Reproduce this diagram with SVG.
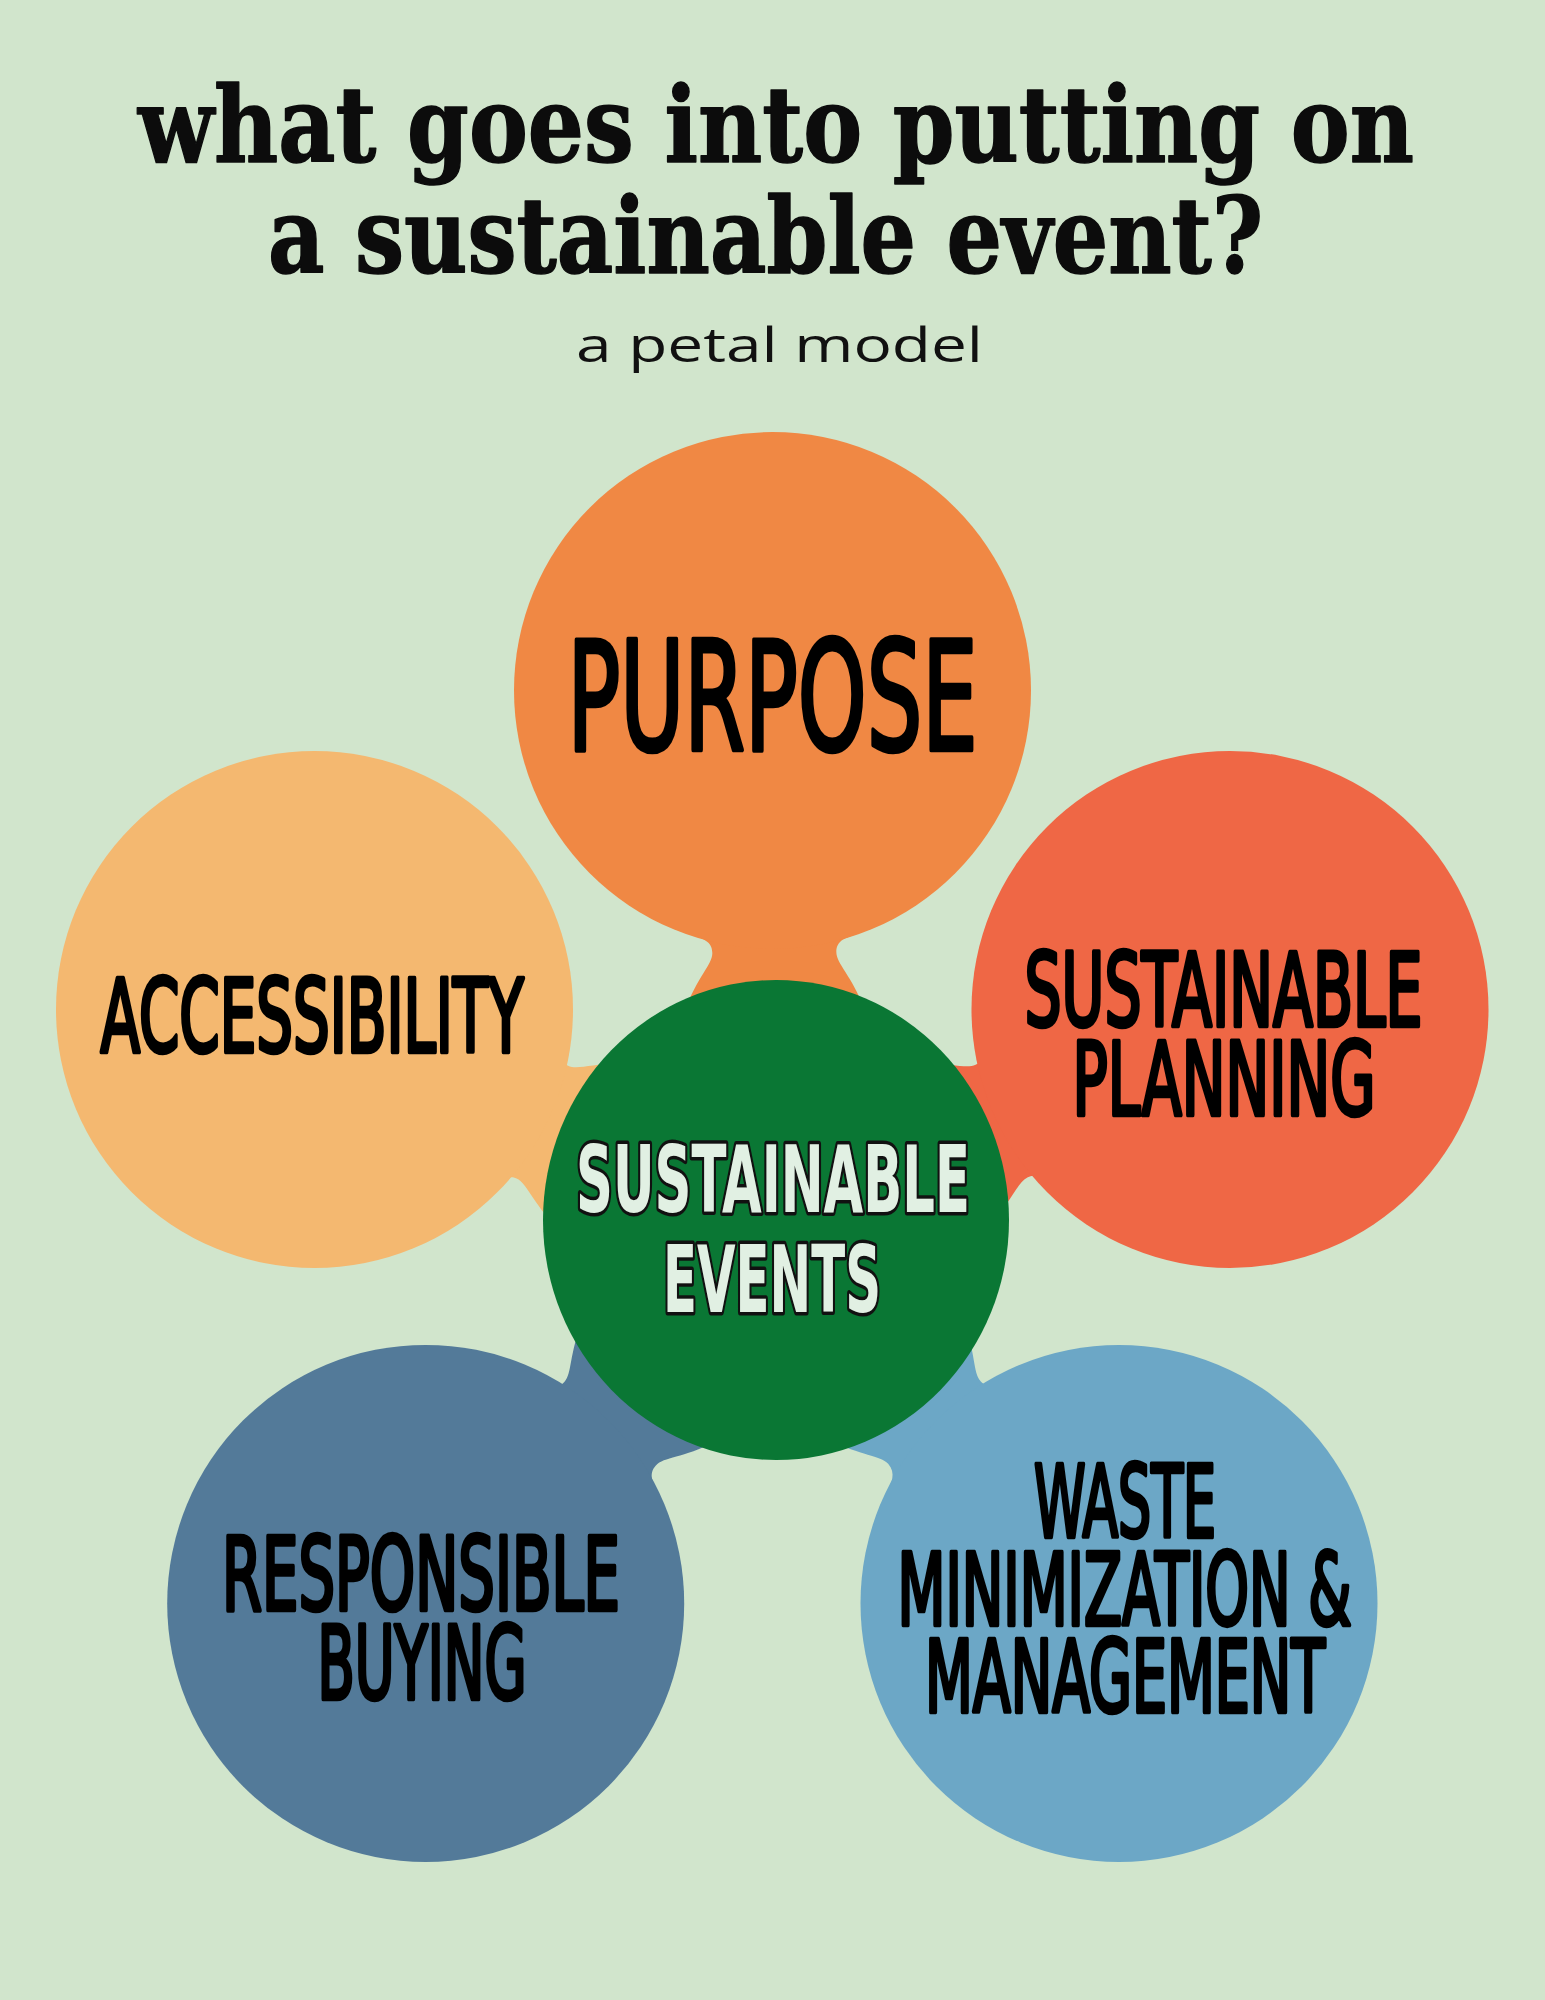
<svg xmlns="http://www.w3.org/2000/svg" width="1545" height="2000" viewBox="0 0 1545 2000">
<style>
.title{font-family:"DejaVu Serif","Liberation Serif",serif;font-weight:bold;font-size:104px;fill:#0c0c0c;stroke:#0c0c0c;stroke-width:1.5;stroke-linejoin:round;text-anchor:middle}
.sub{font-family:"Open Sans","Liberation Sans",sans-serif;font-size:48px;fill:#111;text-anchor:middle}
.lbl{font-family:"DejaVu Sans Condensed","DejaVu Sans",sans-serif;font-weight:normal;fill:#000;stroke:#000;stroke-width:4.5;stroke-linejoin:round;text-anchor:middle}
.ctr{font-family:"DejaVu Sans Condensed","DejaVu Sans",sans-serif;font-weight:bold;fill:#E1F0E3;stroke:#111;stroke-width:7;stroke-linejoin:round;paint-order:stroke;text-anchor:middle}
.c1{fill:#F08844}.c2{fill:#F4B870}.c3{fill:#EF6745}.c4{fill:#537A99}.c5{fill:#6CA7C6}
</style>
<rect width="1545" height="2000" fill="#D1E5CC"/>
<g id="title">
<text class="title" x="776" y="162" textLength="1276" lengthAdjust="spacingAndGlyphs">what goes into putting on</text>
<text class="title" x="765.5" y="273" textLength="995" lengthAdjust="spacingAndGlyphs">a sustainable event?</text>
<text class="sub" x="779.5" y="362" textLength="407" lengthAdjust="spacingAndGlyphs">a petal model</text>
</g>
<g id="connectors">
<path class="c1" transform="translate(772.5,690.5) rotate(-0.4)" d="M -84,243.5 C -72,247.5 -62,250 -62,262 C -62,274 -77,285 -90,320 L -97,350 L 97,350 L 90,320 C 77,285 62,274 62,262 C 62,250 72,247.5 84,243.5 Z"/>
<path class="c2" transform="translate(314.5,1009.5) rotate(-65.5)" d="M -92,240.6 C -80,244.6 -70,242 -70,254 C -70,266 -85,277 -98,312 L -105,342 L 89,342 L 82,312 C 69,277 54,266 54,254 C 54,242 64,250.1 76,246.1 Z"/>
<path class="c3" transform="translate(1230,1009.5) rotate(65.1)" d="M -79,245.1 C -67,249.1 -57,242 -57,254 C -57,266 -72,277 -85,312 L -92,342 L 102,342 L 95,312 C 82,277 67,266 67,254 C 67,242 77,245.7 89,241.7 Z"/>
<path class="c4" transform="translate(425.7,1603.4) rotate(-137.6)" d="M -99,237.8 C -87,241.8 -77,245 -77,257 C -77,269 -92,280 -105,315 L -112,345 L 82,345 L 75,315 C 62,280 47,269 47,257 C 47,245 57,252.1 69,248.1 Z"/>
<path class="c5" transform="translate(1119,1603.5) rotate(138.2)" d="M -67,248.7 C -55,252.7 -45,246 -45,258 C -45,270 -60,281 -73,316 L -80,346 L 114,346 L 107,316 C 94,281 79,270 79,258 C 79,246 89,240.9 101,236.9 Z"/>
</g>
<g id="purpose">
<circle class="c1" cx="772.5" cy="690.5" r="258.5"/>
<text class="lbl" x="772.5" y="750" font-size="152" textLength="410" lengthAdjust="spacingAndGlyphs">PURPOSE</text>
</g>
<g id="accessibility">
<circle class="c2" cx="314.5" cy="1009.5" r="258.5"/>
<text class="lbl" x="312" y="1052" font-size="101" textLength="423" lengthAdjust="spacingAndGlyphs">ACCESSIBILITY</text>
</g>
<g id="sustainable-planning">
<circle class="c3" cx="1230" cy="1009.5" r="258.5"/>
<text class="lbl" x="1223.5" y="1026" font-size="102" textLength="398" lengthAdjust="spacingAndGlyphs">SUSTAINABLE</text>
<text class="lbl" x="1224" y="1115" font-size="102" textLength="303" lengthAdjust="spacingAndGlyphs">PLANNING</text>
</g>
<g id="responsible-buying">
<circle class="c4" cx="425.7" cy="1603.4" r="258.5"/>
<text class="lbl" x="421" y="1610" font-size="102" textLength="398" lengthAdjust="spacingAndGlyphs">RESPONSIBLE</text>
<text class="lbl" x="422" y="1699" font-size="102" textLength="209" lengthAdjust="spacingAndGlyphs">BUYING</text>
</g>
<g id="waste">
<circle class="c5" cx="1119" cy="1603.5" r="258.5"/>
<text class="lbl" x="1125" y="1536.6" font-size="100" textLength="182" lengthAdjust="spacingAndGlyphs">WASTE</text>
<text class="lbl" x="1124.5" y="1625" font-size="100" textLength="454" lengthAdjust="spacingAndGlyphs">MINIMIZATION &amp;</text>
<text class="lbl" x="1125" y="1712" font-size="100" textLength="400" lengthAdjust="spacingAndGlyphs">MANAGEMENT</text>
</g>
<g id="sustainable-events">
<ellipse cx="776" cy="1220" rx="233" ry="240" fill="#0A7734"/>
<text class="ctr" x="773" y="1212" font-size="93" textLength="394" lengthAdjust="spacingAndGlyphs">SUSTAINABLE</text>
<text class="ctr" x="772" y="1311.5" font-size="93" textLength="218" lengthAdjust="spacingAndGlyphs">EVENTS</text>
</g>
</svg>
